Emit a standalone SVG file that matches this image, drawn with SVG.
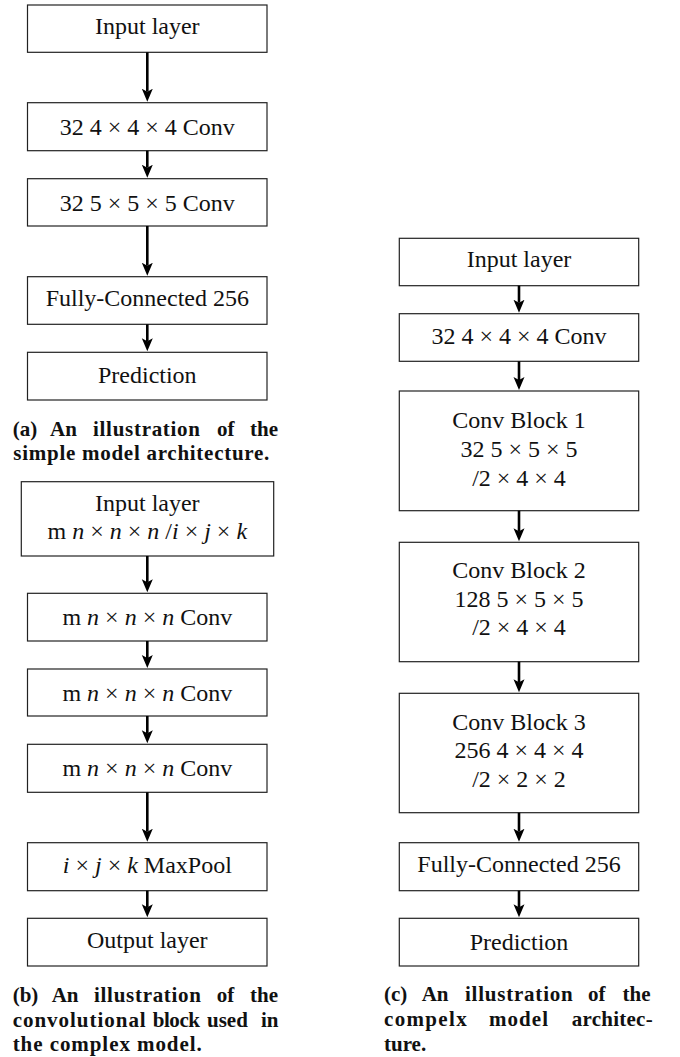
<svg xmlns="http://www.w3.org/2000/svg" width="680" height="1057" viewBox="0 0 680 1057">
<style>
.box{fill:#fff;stroke:#222;stroke-width:1.2}
.t{font-family:"Liberation Serif","Times New Roman",serif;font-size:24px;fill:#111;text-anchor:middle}
.i{font-style:italic}
.cap{font-family:"Liberation Serif","Times New Roman",serif;font-size:21px;font-weight:bold;fill:#111}
.arr{stroke:#000;stroke-width:2.6;fill:none;marker-end:url(#ah)}
</style>
<defs>
<marker id="ah" markerUnits="userSpaceOnUse" markerWidth="16" markerHeight="14" viewBox="0 -7 16 14" refX="3" refY="0" orient="auto">
<path d="M0,-5.5 L13,0 L0,5.5 L3,0 Z" fill="#000"/>
</marker>
</defs>

<!-- (a) simple model -->
<g id="a-input"><rect class="box" x="27.5" y="5" width="239.5" height="47.3"/><text class="t" x="147.3" y="34.3">Input layer</text></g>
<g id="a-conv1"><rect class="box" x="27.5" y="102.7" width="239.5" height="48"/><text class="t" x="147.3" y="135">32 4 × 4 × 4 Conv</text></g>
<g id="a-conv2"><rect class="box" x="27.5" y="178.7" width="239.5" height="47.3"/><text class="t" x="147.3" y="210.7">32 5 × 5 × 5 Conv</text></g>
<g id="a-fc"><rect class="box" x="27.5" y="276.7" width="239.5" height="47.6"/><text class="t" x="147.3" y="306">Fully-Connected 256</text></g>
<g id="a-pred"><rect class="box" x="27.5" y="352.3" width="239.5" height="47.7"/><text class="t" x="147.3" y="383.3">Prediction</text></g>
<g id="a-caption">
<text class="cap" x="12.7" y="435.7">(a)</text>
<text class="cap" x="50" y="435.7">An</text>
<text class="cap" x="93" y="435.7" textLength="107" lengthAdjust="spacing">illustration</text>
<text class="cap" x="217" y="435.7">of</text>
<text class="cap" x="250" y="435.7">the</text>
<text class="cap" x="13.3" y="460" textLength="256" lengthAdjust="spacing">simple model architecture.</text>
</g>

<!-- (b) conv block -->
<g id="b-input"><rect class="box" x="21.3" y="481.7" width="252.4" height="74.3"/>
<text class="t" x="147.3" y="511">Input layer</text>
<text class="t" x="147.3" y="539">m <tspan class="i">n</tspan> × <tspan class="i">n</tspan> × <tspan class="i">n</tspan> /<tspan class="i">i</tspan> × <tspan class="i">j</tspan> × <tspan class="i">k</tspan></text></g>
<g id="b-conv1"><rect class="box" x="27.5" y="593.3" width="239.5" height="47.7"/><text class="t" x="147.3" y="625">m <tspan class="i">n</tspan> × <tspan class="i">n</tspan> × <tspan class="i">n</tspan> Conv</text></g>
<g id="b-conv2"><rect class="box" x="27.5" y="669" width="239.5" height="47"/><text class="t" x="147.3" y="700.7">m <tspan class="i">n</tspan> × <tspan class="i">n</tspan> × <tspan class="i">n</tspan> Conv</text></g>
<g id="b-conv3"><rect class="box" x="27.5" y="744.3" width="239.5" height="48"/><text class="t" x="147.3" y="775.7">m <tspan class="i">n</tspan> × <tspan class="i">n</tspan> × <tspan class="i">n</tspan> Conv</text></g>
<g id="b-pool"><rect class="box" x="27.5" y="842.7" width="239.5" height="48"/><text class="t" x="147.3" y="872.7"><tspan class="i">i</tspan> × <tspan class="i">j</tspan> × <tspan class="i">k</tspan> MaxPool</text></g>
<g id="b-output"><rect class="box" x="27.5" y="918.3" width="239.5" height="47.7"/><text class="t" x="147.3" y="948.3">Output layer</text></g>
<g id="b-caption">
<text class="cap" x="12.7" y="1001.7">(b)</text>
<text class="cap" x="51.7" y="1001.7">An</text>
<text class="cap" x="94" y="1001.7" textLength="107" lengthAdjust="spacing">illustration</text>
<text class="cap" x="216.7" y="1001.7">of</text>
<text class="cap" x="250" y="1001.7">the</text>
<text class="cap" x="12.7" y="1026.7" textLength="133" lengthAdjust="spacing">convolutional</text>
<text class="cap" x="152.7" y="1026.7" textLength="47.3" lengthAdjust="spacing">block</text>
<text class="cap" x="207" y="1026.7">used</text>
<text class="cap" x="261" y="1026.7">in</text>
<text class="cap" x="12.7" y="1051" textLength="189" lengthAdjust="spacing">the complex model.</text>
</g>

<!-- (c) complex model -->
<g id="c-input"><rect class="box" x="399.3" y="238.3" width="239.4" height="47.4"/><text class="t" x="519" y="266.7">Input layer</text></g>
<g id="c-conv"><rect class="box" x="399.3" y="313.7" width="239.4" height="47.6"/><text class="t" x="519" y="344.3">32 4 × 4 × 4 Conv</text></g>
<g id="c-block1"><rect class="box" x="399.3" y="391" width="239.4" height="119.7"/>
<text class="t" x="519" y="427.7">Conv Block 1</text><text class="t" x="519" y="456.7">32 5 × 5 × 5</text><text class="t" x="519" y="486">/2 × 4 × 4</text></g>
<g id="c-block2"><rect class="box" x="399.3" y="542.3" width="239.4" height="119.4"/>
<text class="t" x="519" y="578.3">Conv Block 2</text><text class="t" x="519" y="606.7">128 5 × 5 × 5</text><text class="t" x="519" y="635">/2 × 4 × 4</text></g>
<g id="c-block3"><rect class="box" x="399.3" y="693.3" width="239.4" height="119.4"/>
<text class="t" x="519" y="730">Conv Block 3</text><text class="t" x="519" y="758.3">256 4 × 4 × 4</text><text class="t" x="519" y="787.3">/2 × 2 × 2</text></g>
<g id="c-fc"><rect class="box" x="399.3" y="842.7" width="239.4" height="48"/><text class="t" x="519" y="871.7">Fully-Connected 256</text></g>
<g id="c-pred"><rect class="box" x="399.3" y="918.3" width="239.4" height="47.7"/><text class="t" x="519" y="950">Prediction</text></g>
<g id="c-caption">
<text class="cap" x="384" y="1001">(c)</text>
<text class="cap" x="421.7" y="1001">An</text>
<text class="cap" x="465" y="1001" textLength="107.7" lengthAdjust="spacing">illustration</text>
<text class="cap" x="588" y="1001">of</text>
<text class="cap" x="622.5" y="1001">the</text>
<text class="cap" x="384" y="1026.3" textLength="82.7" lengthAdjust="spacing">compelx</text>
<text class="cap" x="489" y="1026.3" textLength="59" lengthAdjust="spacing">model</text>
<text class="cap" x="571.7" y="1026.3" textLength="81" lengthAdjust="spacing">architec-</text>
<text class="cap" x="384" y="1051">ture.</text>
</g>

<g id="connectors">
<line class="arr" x1="147.3" y1="52.3" x2="147.3" y2="91.7"/>
<line class="arr" x1="147.3" y1="150.7" x2="147.3" y2="167.7"/>
<line class="arr" x1="147.3" y1="226" x2="147.3" y2="265.7"/>
<line class="arr" x1="147.3" y1="324.3" x2="147.3" y2="341.3"/>
<line class="arr" x1="147.3" y1="556" x2="147.3" y2="582.3"/>
<line class="arr" x1="147.3" y1="641" x2="147.3" y2="658"/>
<line class="arr" x1="147.3" y1="716" x2="147.3" y2="733.3"/>
<line class="arr" x1="147.3" y1="792.3" x2="147.3" y2="831.7"/>
<line class="arr" x1="147.3" y1="890.7" x2="147.3" y2="907.3"/>
<line class="arr" x1="519" y1="285.7" x2="519" y2="302.7"/>
<line class="arr" x1="519" y1="361.3" x2="519" y2="380"/>
<line class="arr" x1="519" y1="510.7" x2="519" y2="531.3"/>
<line class="arr" x1="519" y1="661.7" x2="519" y2="682.3"/>
<line class="arr" x1="519" y1="812.7" x2="519" y2="831.7"/>
<line class="arr" x1="519" y1="890.7" x2="519" y2="907.3"/>
</g>
</svg>
